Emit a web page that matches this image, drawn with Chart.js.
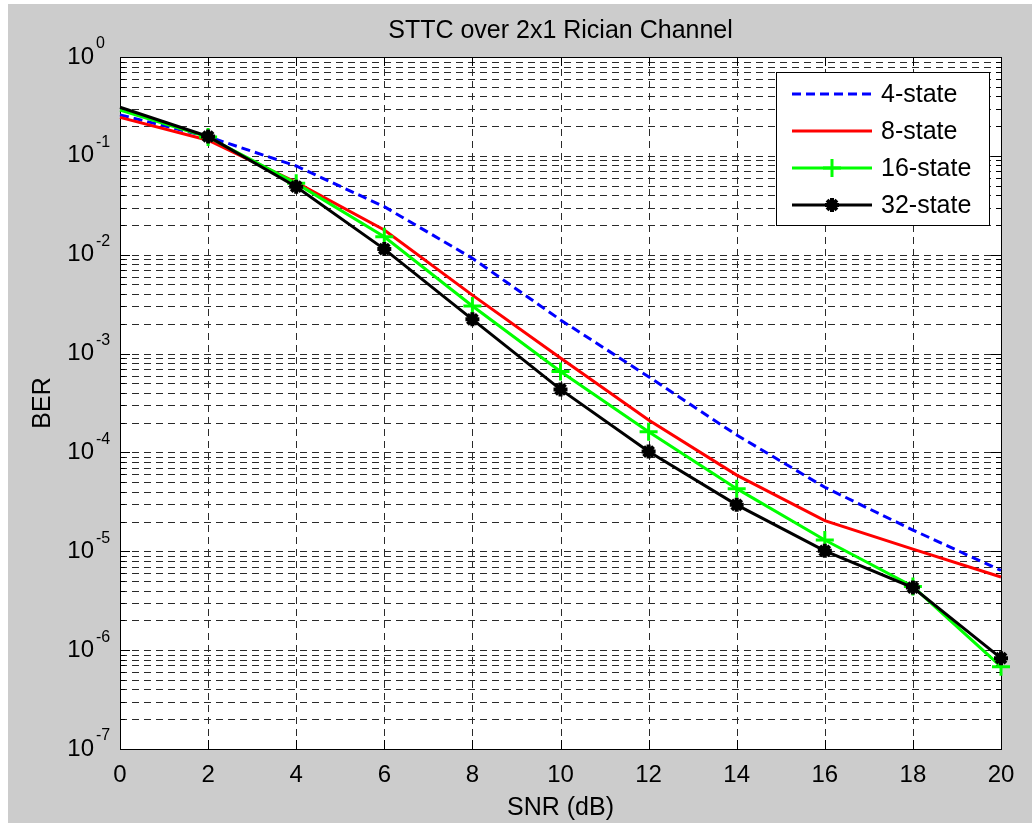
<!DOCTYPE html>
<html>
<head>
<meta charset="utf-8">
<title>STTC over 2x1 Rician Channel</title>
<script src="https://cdn.jsdelivr.net/npm/chart.js@4.4.1/dist/chart.umd.min.js"></script>
<style>
  html, body { margin: 0; padding: 0; background: #fff; }
  #wrap { position: absolute; left: 8px; top: 4px; width: 1024px; height: 819px; background: #cccccc; }
  canvas { display: block; }
</style>
</head>
<body>
<div id="wrap"><canvas id="ber" width="1024" height="819"></canvas></div>
<script>
// SNR in dB and simulated BER per trellis size
const snr = [0, 2, 4, 6, 8, 10, 12, 14, 16, 18, 20];
const ber4 = [0.26, 0.156, 0.079, 0.0306, 0.0092, 0.00219, 0.000583, 0.00015, 4.44e-5, 1.64e-5, 6.4e-6];
const ber8 = [0.245, 0.144, 0.054, 0.0178, 0.0039, 0.0009, 0.000213, 5.9e-5, 2.04e-5, 1.05e-5, 5.5e-6];
const ber16 = [0.29, 0.155, 0.0527, 0.0152, 0.00303, 0.00066, 0.000162, 4.3e-5, 1.3e-5, 4.4e-6, 6.8e-7];
const ber32 = [0.31, 0.157, 0.0488, 0.0114, 0.00222, 0.000434, 0.000102, 2.95e-5, 1.01e-5, 4.3e-6, 8.3e-7];
const seriesNames = ['4-state', '8-state', '16-state', '32-state'];

const snrTicks = [0, 2, 4, 6, 8, 10, 12, 14, 16, 18, 20];
const decades = [0, -1, -2, -3, -4, -5, -6, -7];

const FONT = 'Arial, "Liberation Sans", Helvetica, sans-serif';

// every 1..9 x 10^n position between the lowest and highest decade
const logGrid = [];
decades.slice().sort((a, b) => a - b).forEach((d, i, arr) => {
  if (i === arr.length - 1) { logGrid.push(Math.pow(10, d)); return; }
  for (let m = 1; m <= 9; m++) logGrid.push(m * Math.pow(10, d));
});

function pts(ys) {
  return snr.map((x, i) => ({x: x, y: ys[i]}));
}

// no marker on the 0 dB sample
const hideFirst = r => ctx => (ctx.dataIndex === 0 ? 0 : r);

// matlab-style axes: dashed grid, inward ticks, box
const axesPlugin = {
  id: 'matlabAxes',
  beforeDatasetsDraw(chart) {
    const {ctx, chartArea: a, scales: {x, y}} = chart;
    ctx.save();
    ctx.fillStyle = '#fff';
    ctx.fillRect(a.left, a.top, a.right - a.left, a.bottom - a.top);

    ctx.strokeStyle = '#2a2a2a';
    ctx.lineWidth = 1;
    ctx.setLineDash([7, 5]);
    ctx.beginPath();
    logGrid.forEach(v => {
      const py = Math.round(y.getPixelForValue(v)) + 0.5;
      if (py <= a.top + 1 || py >= a.bottom - 1) return;
      ctx.moveTo(a.left, py);
      ctx.lineTo(a.right, py);
    });
    snrTicks.forEach(v => {
      const px = Math.round(x.getPixelForValue(v)) + 0.5;
      if (px <= a.left + 1 || px >= a.right - 1) return;
      ctx.moveTo(px, a.top);
      ctx.lineTo(px, a.bottom);
    });
    ctx.stroke();

    ctx.setLineDash([]);
    ctx.strokeStyle = '#000';
    ctx.beginPath();
    logGrid.forEach(v => {
      const py = Math.round(y.getPixelForValue(v)) + 0.5;
      const len = Number.isInteger(Math.log10(v)) ? 10 : 5;
      ctx.moveTo(a.left, py); ctx.lineTo(a.left + len, py);
      ctx.moveTo(a.right, py); ctx.lineTo(a.right - len, py);
    });
    snrTicks.forEach(v => {
      const px = Math.round(x.getPixelForValue(v)) + 0.5;
      ctx.moveTo(px, a.top); ctx.lineTo(px, a.top + 9);
      ctx.moveTo(px, a.bottom); ctx.lineTo(px, a.bottom - 9);
    });
    ctx.stroke();

    ctx.strokeRect(Math.round(a.left) + 0.5, Math.round(a.top) + 0.5,
      Math.round(a.right - a.left), Math.round(a.bottom - a.top));
    ctx.restore();
  },
  afterDraw(chart) {
    const {ctx, chartArea: a, scales: {y}} = chart;
    ctx.save();
    ctx.fillStyle = '#000';

    // title
    ctx.font = '25px ' + FONT;
    ctx.textAlign = 'center';
    ctx.textBaseline = 'middle';
    ctx.fillText('STTC over 2x1 Rician Channel', (a.left + a.right) / 2, 27);

    // 10^n labels
    decades.forEach(e => {
      const py = y.getPixelForValue(Math.pow(10, e));
      ctx.font = '24px ' + FONT;
      ctx.textAlign = 'right';
      ctx.fillText('10', a.left - 26, py);
      ctx.font = '16px ' + FONT;
      ctx.textAlign = 'left';
      ctx.fillText(String(e), a.left - 24, py - 13);
    });

    // legend box
    const lx = 768, ly = 68, lw = 213, lh = 153;
    ctx.fillStyle = '#fff';
    ctx.fillRect(lx, ly, lw, lh);
    ctx.strokeStyle = '#000';
    ctx.lineWidth = 1;
    ctx.strokeRect(lx + 0.5, ly + 0.5, lw, lh);

    chart.data.datasets.forEach((ds, i) => {
      const cy = ly + 22 + i * 37;
      ctx.strokeStyle = ds.borderColor;
      ctx.lineWidth = ds.borderWidth;
      ctx.setLineDash(ds.borderDash || []);
      ctx.beginPath();
      ctx.moveTo(lx + 16, cy);
      ctx.lineTo(lx + 96, cy);
      ctx.stroke();
      ctx.setLineDash([]);
      const mark = chart.getDatasetMeta(i).data[1].options;
      if (mark.radius > 0) {
        ctx.strokeStyle = mark.borderColor;
        ctx.fillStyle = mark.backgroundColor;
        ctx.lineWidth = mark.borderWidth;
        Chart.helpers.drawPoint(ctx, {
          pointStyle: mark.pointStyle, radius: mark.radius,
          rotation: 0, borderWidth: mark.borderWidth
        }, lx + 56, cy);
      }
      ctx.fillStyle = '#000';
      ctx.font = '25px ' + FONT;
      ctx.textAlign = 'left';
      ctx.fillText(ds.label, lx + 105, cy + 1);
    });
    ctx.restore();
  }
};

new Chart(document.getElementById('ber'), {
  type: 'line',
  data: {
    datasets: [
      {
        label: seriesNames[0], data: pts(ber4), order: 4,
        borderColor: '#0000ff', borderWidth: 3, borderDash: [9, 5],
        pointRadius: 0, tension: 0
      },
      {
        label: seriesNames[1], data: pts(ber8), order: 3,
        borderColor: '#ff0000', borderWidth: 3,
        pointRadius: 0, tension: 0
      },
      {
        label: seriesNames[2], data: pts(ber16), order: 2,
        borderColor: '#00ff00', backgroundColor: '#00ff00', borderWidth: 3,
        pointStyle: 'cross', pointRadius: hideFirst(9), pointBorderWidth: 3,
        pointBorderColor: '#00ff00', pointBackgroundColor: '#00ff00', tension: 0
      },
      {
        label: seriesNames[3], data: pts(ber32), order: 1,
        borderColor: '#000000', backgroundColor: '#000000', borderWidth: 3,
        pointStyle: 'star', pointRadius: hideFirst(7), pointBorderWidth: 4,
        pointBorderColor: '#000000', pointBackgroundColor: '#000000', tension: 0
      }
    ]
  },
  options: {
    responsive: false,
    animation: false,
    devicePixelRatio: 1,
    clip: false,
    layout: {padding: {top: 53, right: 31, left: 0, bottom: 0}},
    plugins: {
      legend: {display: false},
      tooltip: {enabled: false},
      title: {display: false}
    },
    scales: {
      x: {
        type: 'linear', min: 0, max: 20,
        afterBuildTicks: s => { s.ticks = snrTicks.map(v => ({value: v})); },
        afterFit: s => { s.height = 74; },
        grid: {display: false},
        border: {display: false},
        ticks: {font: {family: FONT, size: 24}, color: '#000', padding: 4, maxRotation: 0, autoSkip: false},
        title: {display: true, text: 'SNR (dB)', color: '#000', font: {family: FONT, size: 25}, padding: {top: 0, bottom: 0}}
      },
      y: {
        type: 'logarithmic', min: 1e-7, max: 1,
        afterBuildTicks: s => { s.ticks = logGrid.map(v => ({value: v})); },
        afterFit: s => { s.width = 112; },
        grid: {display: false},
        border: {display: false},
        ticks: {display: false},
        title: {display: true, text: 'BER', color: '#000', font: {family: FONT, size: 25}, padding: {top: 20, bottom: 0}}
      }
    }
  },
  plugins: [axesPlugin]
});
</script>
</body>
</html>
